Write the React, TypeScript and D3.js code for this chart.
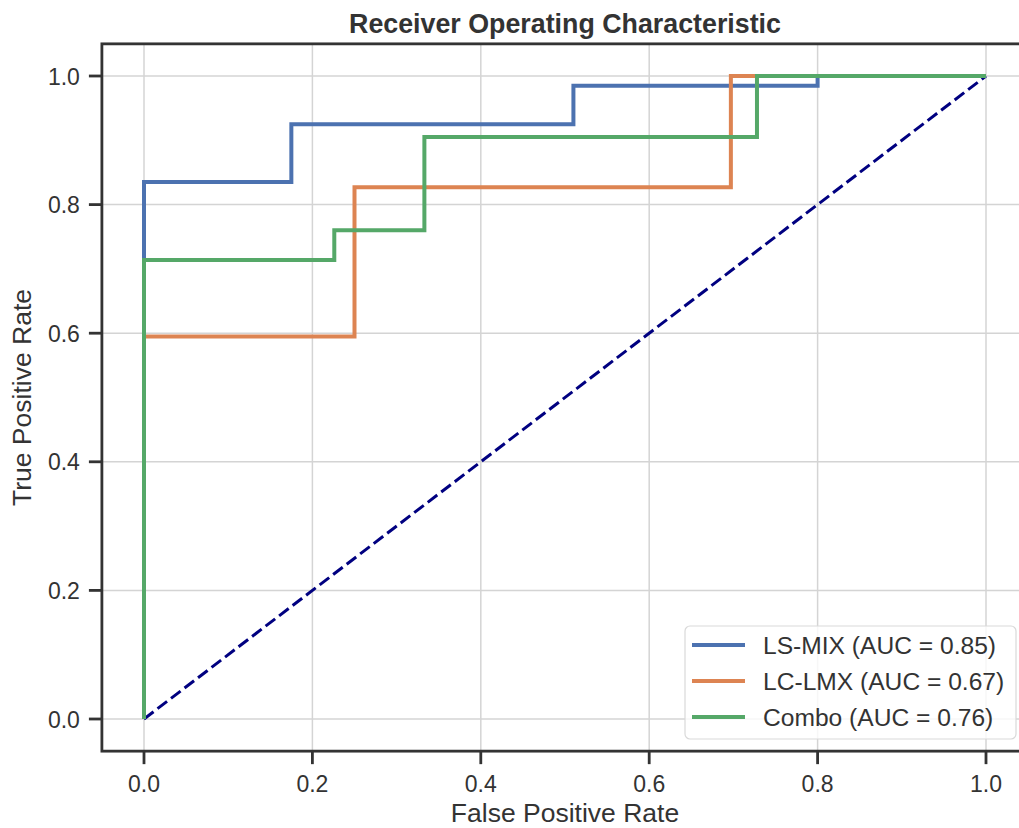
import React from "react";
import * as d3 from "d3";

// ROC curve points (false positive rate / true positive rate)
const lsMixFpr = [0, 0, 0.175, 0.175, 0.51, 0.51, 0.8, 0.8, 1];
const lsMixTpr = [0, 0.835, 0.835, 0.925, 0.925, 0.985, 0.985, 1, 1];
const lcLmxFpr = [0, 0, 0.25, 0.25, 0.697, 0.697, 1];
const lcLmxTpr = [0, 0.595, 0.595, 0.827, 0.827, 1, 1];
const comboFpr = [0, 0, 0.226, 0.226, 0.333, 0.333, 0.728, 0.728, 1];
const comboTpr = [0, 0.714, 0.714, 0.76, 0.76, 0.905, 0.905, 1, 1];
const seriesNames = ["LS-MIX (AUC = 0.85)", "LC-LMX (AUC = 0.67)", "Combo (AUC = 0.76)"];
const seriesColors = ["#4c72b0", "#dd8452", "#55a868"];
const tickValues = [0, 0.2, 0.4, 0.6, 0.8, 1.0];

const W = 1019;
const H = 828;
const font = "'Liberation Sans', Arial, sans-serif";
const ink = "#333";

export default function App() {
  // axes box: x from -0.05 to 1.05, y from -0.05 to 1.05
  const x = d3.scaleLinear().domain([0, 1]).range([144, 986]);
  const y = d3.scaleLinear().domain([0, 1]).range([719, 76]);
  const left = x(-0.05);
  const right = x(1.05);
  const top = y(1.05);
  const bottom = y(-0.05);

  const line = d3
    .line<[number, number]>()
    .x((d) => x(d[0]))
    .y((d) => y(d[1]));

  const curves = [
    d3.zip(lsMixFpr, lsMixTpr),
    d3.zip(lcLmxFpr, lcLmxTpr),
    d3.zip(comboFpr, comboTpr),
  ] as [number, number][][];

  const legendX = 685;
  const legendY = 626;

  return (
    <svg
      width={W}
      height={H}
      style={{ position: "fixed", left: 0, top: 0, background: "#fff" }}
      fontFamily={font}
    >
      {/* grid */}
      {tickValues.map((t) => (
        <g key={"g" + t}>
          <line x1={x(t)} x2={x(t)} y1={top} y2={bottom} stroke="#d4d4d4" strokeWidth={1.5} />
          <line x1={left} x2={right} y1={y(t)} y2={y(t)} stroke="#d4d4d4" strokeWidth={1.5} />
        </g>
      ))}

      {/* diagonal */}
      <path
        d={line([[0, 0], [1, 1]]) || ""}
        stroke="#000080"
        strokeWidth={3}
        strokeDasharray="12,5"
        fill="none"
      />

      {/* ROC curves */}
      {curves.map((c, i) => (
        <path
          key={i}
          d={line(c) || ""}
          stroke={seriesColors[i]}
          strokeWidth={4}
          fill="none"
        />
      ))}

      {/* spines */}
      <rect
        x={left}
        y={top}
        width={right - left}
        height={bottom - top}
        fill="none"
        stroke={ink}
        strokeWidth={2.8}
      />

      {/* x ticks */}
      {tickValues.map((t) => (
        <g key={"x" + t}>
          <line x1={x(t)} x2={x(t)} y1={bottom} y2={bottom + 13} stroke={ink} strokeWidth={2.8} />
          <text x={x(t)} y={bottom + 41} textAnchor="middle" fontSize={23} fill={ink}>
            {t.toFixed(1)}
          </text>
        </g>
      ))}

      {/* y ticks */}
      {tickValues.map((t) => (
        <g key={"y" + t}>
          <line x1={left - 13} x2={left} y1={y(t)} y2={y(t)} stroke={ink} strokeWidth={2.8} />
          <text x={left - 22} y={y(t) + 8.5} textAnchor="end" fontSize={23} fill={ink}>
            {t.toFixed(1)}
          </text>
        </g>
      ))}

      {/* labels */}
      <text x={(left + right) / 2} y={33} textAnchor="middle" fontSize={26.8} fontWeight="bold" fill={ink}>
        Receiver Operating Characteristic
      </text>
      <text x={x(0.5)} y={822} textAnchor="middle" fontSize={26.5} fill={ink}>
        False Positive Rate
      </text>
      <text
        transform={`translate(31,${y(0.5)}) rotate(-90)`}
        textAnchor="middle"
        fontSize={26.5}
        fill={ink}
      >
        True Positive Rate
      </text>

      {/* legend */}
      <rect
        x={legendX}
        y={legendY}
        width={331}
        height={113}
        rx={5}
        fill="#fff"
        fillOpacity={0.8}
        stroke="#d9d9d9"
        strokeWidth={1.2}
      />
      {seriesNames.map((name, i) => (
        <g key={name} transform={`translate(${legendX}, ${legendY + 19 + i * 36})`}>
          <line x1={7} x2={60} y1={0} y2={0} stroke={seriesColors[i]} strokeWidth={4} />
          <text x={78} y={8.7} fontSize={24.6} fill={ink}>
            {name}
          </text>
        </g>
      ))}
    </svg>
  );
}
